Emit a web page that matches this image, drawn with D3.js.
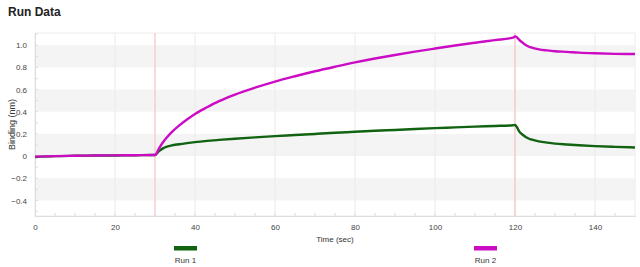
<!DOCTYPE html>
<html>
<head>
<meta charset="utf-8">
<script src="https://cdn.jsdelivr.net/npm/d3@7"></script>
<style>
body { margin: 0; background: #fff; }
text { font-family: "Liberation Sans", Arial, sans-serif; }
</style>
</head>
<body>
<script>
var w = 640, h = 267;
var margin = {"left": 35, "right": 5, "top": 33, "bottom": 51};

// data
var times = [0, 5, 10, 15, 20, 25, 29.5, 30, 31, 32, 33, 34, 36, 38, 40, 43, 46, 50, 55, 60, 65, 70, 75, 80, 85, 90, 95, 100, 105, 110, 115, 119.5, 120, 120.5, 121, 122, 123, 124, 126, 128, 130, 133, 136, 140, 145, 150];
var run1 = [-0.008, 0.0, 0.003, 0.005, 0.006, 0.008, 0.01, 0.01, 0.045, 0.07, 0.085, 0.095, 0.107, 0.117, 0.126, 0.137, 0.146, 0.157, 0.169, 0.18, 0.19, 0.2, 0.21, 0.219, 0.228, 0.236, 0.244, 0.252, 0.259, 0.266, 0.272, 0.278, 0.28, 0.26, 0.225, 0.19, 0.165, 0.15, 0.133, 0.122, 0.113, 0.105, 0.098, 0.09, 0.083, 0.078];
var run2 = [-0.005, 0.0, 0.003, 0.005, 0.007, 0.008, 0.01, 0.01, 0.07, 0.125, 0.17, 0.21, 0.275, 0.33, 0.38, 0.44, 0.495, 0.555, 0.617, 0.672, 0.72, 0.765, 0.806, 0.845, 0.88, 0.912, 0.942, 0.97, 0.997, 1.022, 1.046, 1.068, 1.08, 1.07, 1.05, 1.02, 0.995, 0.98, 0.962, 0.953, 0.946, 0.94, 0.933, 0.927, 0.922, 0.92];
var runNames = ["Run 1", "Run 2"];
var runColors = ["#116311", "#cc0cc4"];
var xTicks = [0, 20, 40, 60, 80, 100, 120, 140];
var yTicks = [-0.4, -0.2, 0, 0.2, 0.4, 0.6, 0.8, 1.0];
var stepTimes = [30, 120];

var svg = d3.select("body").append("svg")
    .attr("width", w)
    .attr("height", h);

var xScale = d3.scaleLinear().domain([0, 150]).range([margin.left, w - margin.right]);
var yScale = d3.scaleLinear().domain([-0.54, 1.11]).range([h - margin.bottom, margin.top]);

svg.append("text")
    .attr("x", 8).attr("y", 16)
    .attr("font-size", 12).attr("font-weight", "bold")
    .attr("fill", "#222")
    .text("Run Data");

// alternating bands
var bands = [[0.8, 1.0], [0.4, 0.6], [0, 0.2], [-0.4, -0.2]];
svg.append("g").selectAll("rect")
    .data(bands).enter().append("rect")
    .attr("x", margin.left)
    .attr("width", w - margin.right - margin.left)
    .attr("y", function(d){ return yScale(d[1]); })
    .attr("height", function(d){ return yScale(d[0]) - yScale(d[1]); })
    .attr("fill", "#f4f4f4");

// vertical grid
svg.append("g").selectAll("line")
    .data(xTicks.slice(1)).enter().append("line")
    .attr("x1", function(d){ return xScale(d); })
    .attr("x2", function(d){ return xScale(d); })
    .attr("y1", margin.top).attr("y2", h - margin.bottom)
    .attr("stroke", "#efe8e8").attr("stroke-width", 1);

// frame
svg.append("rect")
    .attr("x", margin.left).attr("y", margin.top)
    .attr("width", w - margin.right - margin.left)
    .attr("height", h - margin.bottom - margin.top)
    .attr("fill", "none").attr("stroke", "#ececec");

// step markers
svg.append("g").selectAll("line")
    .data(stepTimes).enter().append("line")
    .attr("x1", function(d){ return xScale(d); })
    .attr("x2", function(d){ return xScale(d); })
    .attr("y1", margin.top).attr("y2", h - margin.bottom)
    .attr("stroke", "#f4c4c4").attr("stroke-width", 1.2);

// axes
var xAxis = d3.axisBottom(xScale).tickValues(xTicks).tickSize(0).tickPadding(8);
var gx = svg.append("g")
    .attr("transform", "translate(0," + (h - margin.bottom) + ")")
    .call(xAxis);
gx.select(".domain").attr("stroke", "#ddd");
gx.selectAll("text").attr("font-size", 8).attr("fill", "#444");

var xMinor = d3.range(5, 150, 5);
svg.append("g").selectAll("line")
    .data(xMinor).enter().append("line")
    .attr("x1", function(d){ return xScale(d); })
    .attr("x2", function(d){ return xScale(d); })
    .attr("y1", h - margin.bottom - 3).attr("y2", h - margin.bottom)
    .attr("stroke", "#ddd");

var yAxis = d3.axisLeft(yScale).tickValues(yTicks).tickSize(0).tickPadding(8)
    .tickFormat(function(d){ return d === 0 ? "0" : d3.format(".1f")(d); });
var gy = svg.append("g")
    .attr("transform", "translate(" + margin.left + ",0)")
    .call(yAxis);
gy.select(".domain").attr("stroke", "#ddd");
gy.selectAll("text").attr("font-size", 8).attr("fill", "#444");

var yMinor = d3.range(-0.5, 1.11, 0.1);
svg.append("g").selectAll("line")
    .data(yMinor).enter().append("line")
    .attr("x1", margin.left).attr("x2", margin.left + 3)
    .attr("y1", function(d){ return yScale(d); })
    .attr("y2", function(d){ return yScale(d); })
    .attr("stroke", "#ddd");

svg.append("text")
    .attr("x", xScale(75)).attr("y", 242)
    .attr("text-anchor", "middle")
    .attr("font-size", 8).attr("fill", "#333")
    .text("Time (sec)");

svg.append("text")
    .attr("transform", "translate(15," + ((margin.top + h - margin.bottom) / 2) + ") rotate(-90)")
    .attr("text-anchor", "middle")
    .attr("font-size", 9).attr("fill", "#333")
    .text("Binding (nm)");

// curves
var line = d3.line()
    .x(function(d){ return xScale(d[0]); })
    .y(function(d){ return yScale(d[1]); })
    .curve(d3.curveMonotoneX);

[run1, run2].forEach(function(vals, i){
    svg.append("path")
        .datum(times.map(function(t, j){ return [t, vals[j]]; }))
        .attr("d", line)
        .attr("fill", "none")
        .attr("stroke", runColors[i])
        .attr("stroke-width", 2.4);
});

// legend
var legendX = [185.5, 485.5];
var legend = svg.selectAll("g.legend")
    .data(runNames).enter().append("g")
    .attr("class", "legend")
    .attr("transform", function(d, i){ return "translate(" + legendX[i] + ",0)"; });
legend.append("rect")
    .attr("x", -11.5).attr("y", 246)
    .attr("width", 23).attr("height", 4.5)
    .attr("fill", function(d, i){ return runColors[i]; });
legend.append("text")
    .attr("y", 263)
    .attr("text-anchor", "middle")
    .attr("font-size", 8).attr("fill", "#333")
    .text(function(d){ return d; });
</script>
</body>
</html>
